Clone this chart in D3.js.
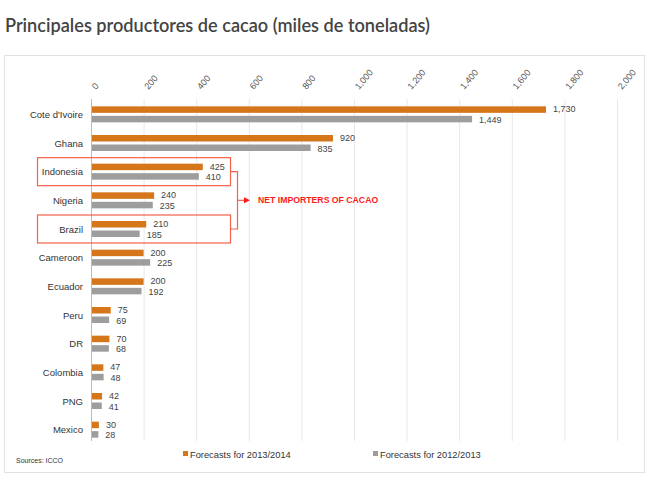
<!DOCTYPE html>
<html><head><meta charset="utf-8">
<script src="https://cdn.jsdelivr.net/npm/d3@7"></script>
<style>body{margin:0;background:#fff;}svg{display:block;}</style>
</head><body>
<script>
const countries = ["Cote d'Ivoire","Ghana","Indonesia","Nigeria","Brazil","Cameroon","Ecuador","Peru","DR","Colombia","PNG","Mexico"];
const forecast1314 = [1730,920,425,240,210,200,200,75,70,47,42,30];
const forecast1213 = [1449,835,410,235,185,225,192,69,68,48,41,28];
const tickValues = [0,200,400,600,800,1000,1200,1400,1600,1800,2000];
const seriesNames = ["Forecasts for 2013/2014","Forecasts for 2012/2013"];
const colors = ["#d6761b","#9d9d9d"];

const W=652,H=486;
const svg=d3.select("body").append("svg").attr("width",W).attr("height",H);
const font="Liberation Sans, Arial, sans-serif";

svg.append("text").attr("x",5).attr("y",32).text("Principales productores de cacao (miles de toneladas)")
  .attr("font-family","Lato, sans-serif").attr("font-size",19.5).attr("fill","#444")
  .attr("font-weight",600)
  .attr("textLength",425).attr("lengthAdjust","spacingAndGlyphs");

svg.append("rect").attr("x",4.5).attr("y",55.5).attr("width",640).attr("height",417)
  .attr("fill","none").attr("stroke","#e2e2e2").attr("stroke-width",1);

const x=d3.scaleLinear().domain([0,2000]).range([91,617]);
const y=d3.scaleBand().domain(countries).range([100,444]).paddingInner(0).paddingOuter(0);
const bh=6.5;

// gridlines
svg.append("g").selectAll("line").data(tickValues.slice(1)).join("line")
  .attr("x1",d=>x(d)+0.5).attr("x2",d=>x(d)+0.5).attr("y1",99).attr("y2",441)
  .attr("stroke","#e8e8e8").attr("stroke-width",1);

// tick labels
svg.append("g").selectAll("text").data(tickValues).join("text")
  .attr("transform",d=>`translate(${x(d)+5},${90}) rotate(-50)`)
  .attr("font-family",font).attr("font-size",9).attr("fill","#555")
  .text(d=>d3.format(",")(d));

// bars
const rows=svg.append("g").selectAll("g").data(countries).join("g")
  .attr("transform",d=>`translate(0,${y(d)+y.bandwidth()/2})`);
rows.append("rect").attr("x",x(0)).attr("y",-8).attr("height",bh)
  .attr("width",(d,i)=>x(forecast1314[i])-x(0)).attr("fill",colors[0]);
rows.append("rect").attr("x",x(0)).attr("y",1.5).attr("height",bh)
  .attr("width",(d,i)=>x(forecast1213[i])-x(0)).attr("fill",colors[1]);
rows.append("text").attr("x",(d,i)=>x(forecast1314[i])+7).attr("y",-2)
  .attr("font-family",font).attr("font-size",9).attr("fill","#444").text((d,i)=>d3.format(",")(forecast1314[i]));
rows.append("text").attr("x",(d,i)=>x(forecast1213[i])+7).attr("y",8.5)
  .attr("font-family",font).attr("font-size",9).attr("fill","#444").text((d,i)=>d3.format(",")(forecast1213[i]));
rows.append("text").attr("x",83).attr("y",3.5).attr("text-anchor","end")
  .attr("font-family",font).attr("font-size",9.5).attr("fill","#333").text(d=>d);

// axis line
svg.append("line").attr("x1",x(0)+0.5).attr("x2",x(0)+0.5).attr("y1",99).attr("y2",441)
  .attr("stroke","#bbb").attr("stroke-width",1);

// annotation boxes
const red="#f4604a";
const boxRows=["Indonesia","Brazil"];
const cy=d=>y(d)+y.bandwidth()/2;
boxRows.forEach(c=>{
  svg.append("rect").attr("x",37.5).attr("y",cy(c)-14).attr("width",193).attr("height",28)
    .attr("fill","none").attr("stroke",red).attr("stroke-width",1.2);
});
const bx=237.5;
svg.append("path").attr("d",`M230.5,${cy("Indonesia")}H${bx}V${cy("Brazil")}H230.5`)
  .attr("fill","none").attr("stroke",red).attr("stroke-width",1.2);
const my=(cy("Indonesia")+cy("Brazil"))/2;
svg.append("line").attr("x1",bx).attr("x2",246).attr("y1",my).attr("y2",my).attr("stroke",red).attr("stroke-width",1.2);
svg.append("path").attr("d",`M244,${my-3}L250,${my}L244,${my+3}Z`).attr("fill","#ff1a1a");
svg.append("text").attr("x",258).attr("y",my+3).text("NET IMPORTERS OF CACAO")
  .attr("font-family",font).attr("font-size",8.7).attr("font-weight","bold").attr("fill","#ff1a1a");

// legend
const legX=[183,373];
seriesNames.forEach((s,i)=>{
  svg.append("rect").attr("x",legX[i]).attr("y",451).attr("width",5).attr("height",5).attr("fill",colors[i]);
  svg.append("text").attr("x",legX[i]+7).attr("y",457.5).text(s)
    .attr("font-family",font).attr("font-size",9.3).attr("fill","#333");
});
svg.append("text").attr("x",16).attr("y",463).text("Sources: ICCO")
  .attr("font-family",font).attr("font-size",7).attr("fill","#333");
</script>
</body></html>
